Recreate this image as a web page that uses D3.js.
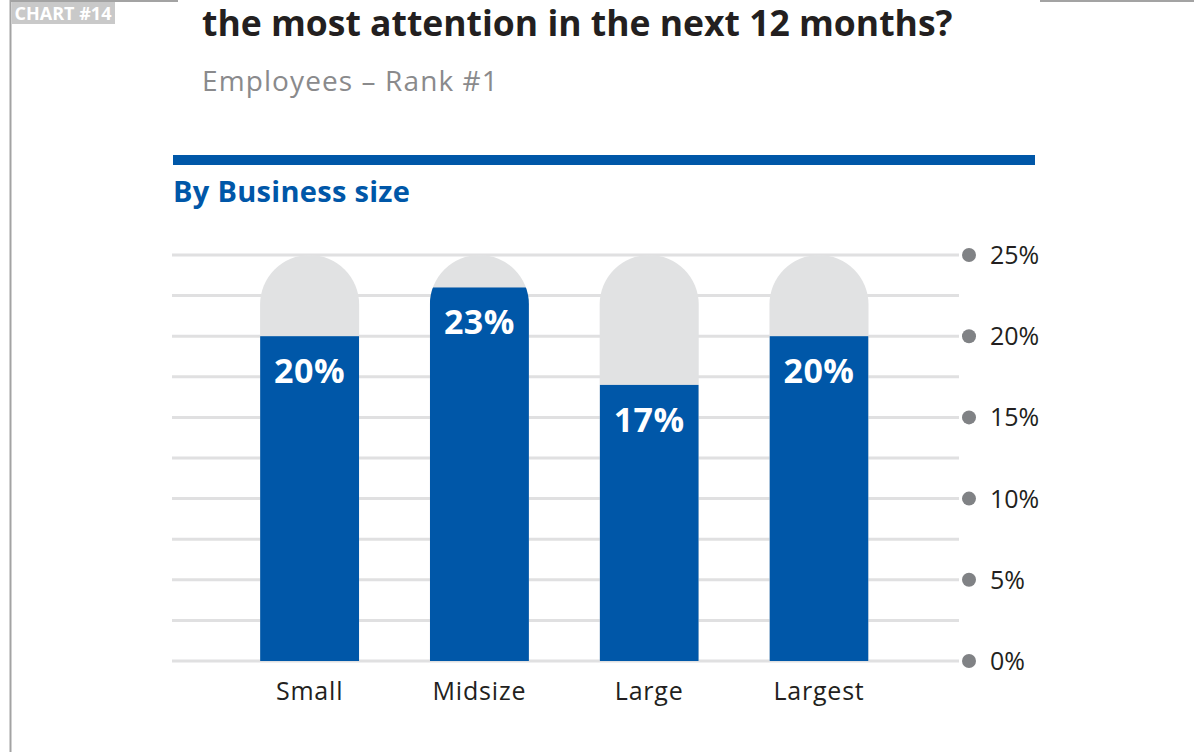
<!DOCTYPE html>
<html>
<head>
<meta charset="utf-8">
<script src="https://cdn.jsdelivr.net/npm/d3@7"></script>
<style>
  html, body { margin: 0; padding: 0; background: #fff; }
  svg { display: block; font-family: "Open Sans", "Lato", sans-serif; }
</style>
</head>
<body>
<svg id="chart" width="1194" height="752"></svg>
<script>
// Data
const categories = ["Small", "Midsize", "Large", "Largest"];
const values = [20, 23, 17, 20];
const valueLabels = ["20%", "23%", "17%", "20%"];
const tickValues = [0, 5, 10, 15, 20, 25];
const tickLabels = ["0%", "5%", "10%", "15%", "20%", "25%"];
const gridValues = [0, 2.5, 5, 7.5, 10, 12.5, 15, 17.5, 20, 22.5, 25];
const maxValue = 25;

const svg = d3.select("#chart");

// Page frame
const frameColor = "#a3a3a3";
svg.append("line").attr("x1", 10.5).attr("x2", 10.5).attr("y1", 0).attr("y2", 752)
  .attr("stroke", frameColor).attr("stroke-width", 2);
svg.append("line").attr("x1", 10).attr("x2", 178).attr("y1", 1).attr("y2", 1)
  .attr("stroke", frameColor).attr("stroke-width", 2);
svg.append("line").attr("x1", 1040).attr("x2", 1194).attr("y1", 1).attr("y2", 1)
  .attr("stroke", frameColor).attr("stroke-width", 2);

// Chart number tag
svg.append("rect").attr("x", 12).attr("y", 2).attr("width", 103).attr("height", 22).attr("fill", "#c9c9c9");
svg.append("text").attr("x", 63).attr("y", 20).attr("text-anchor", "middle")
  .attr("fill", "#fff").attr("font-weight", 700).attr("font-size", 18).text("CHART #14");

// Titles
svg.append("text").attr("x", 202).attr("y", 36).attr("fill", "#231f20")
  .attr("font-weight", 700).attr("font-size", 35.5).text("the most attention in the next 12 months?");
svg.append("text").attr("x", 202).attr("y", 91).attr("fill", "#8a8a8c")
  .attr("font-size", 28).attr("letter-spacing", 1.1).text("Employees – Rank #1");

svg.append("rect").attr("x", 173).attr("y", 155).attr("width", 862).attr("height", 10).attr("fill", "#0057a8");
svg.append("text").attr("x", 173).attr("y", 202).attr("fill", "#0057a8")
  .attr("font-weight", 700).attr("font-size", 29).attr("letter-spacing", 0.3).text("By Business size");

// Scales
const y = d3.scaleLinear().domain([0, maxValue]).range([661, 255]);
const x = d3.scaleBand().domain(categories).range([175.2, 953.4]).paddingInner(0.4166).paddingOuter(0.5);

// Grid lines
svg.append("g").selectAll("line").data(gridValues).join("line")
  .attr("x1", 172).attr("x2", 959)
  .attr("y1", d => y(d)).attr("y2", d => y(d))
  .attr("stroke", "#e0e0e1").attr("stroke-width", 3);

// Right axis: dots + labels
const axis = svg.append("g");
axis.selectAll("circle").data(tickValues).join("circle")
  .attr("cx", 969).attr("cy", d => y(d)).attr("r", 7).attr("fill", "#808285");
axis.selectAll("text").data(tickValues).join("text")
  .attr("x", 990).attr("y", d => y(d) + 9).attr("fill", "#231f20")
  .attr("font-size", 25).text((d, i) => tickLabels[i]);

// Pill-shaped track for each bar
function pillPath(x0, w, yTop, yBottom) {
  const r = w / 2;
  return `M${x0},${yBottom} L${x0},${yTop + r} A${r},${r} 0 0 1 ${x0 + w},${yTop + r} L${x0 + w},${yBottom} Z`;
}

const defs = svg.append("defs");
const bars = svg.append("g");
categories.forEach((c, i) => {
  const x0 = x(c), w = x.bandwidth();
  const d = pillPath(x0, w, y(maxValue), y(0));
  defs.append("clipPath").attr("id", "clip" + i).append("path").attr("d", d);
  bars.append("path").attr("d", d).attr("fill", "#e1e2e3");
  bars.append("rect").attr("clip-path", `url(#clip${i})`)
    .attr("x", x0).attr("width", w)
    .attr("y", y(values[i])).attr("height", y(0) - y(values[i]))
    .attr("fill", "#0057a8");
  bars.append("text").attr("x", x0 + w / 2).attr("y", y(values[i]) + 47)
    .attr("text-anchor", "middle").attr("fill", "#fff")
    .attr("font-weight", 700).attr("font-size", 34).attr("letter-spacing", 0.5).text(valueLabels[i]);
});

// Category labels
svg.append("g").selectAll("text").data(categories).join("text")
  .attr("x", d => x(d) + x.bandwidth() / 2).attr("y", 700)
  .attr("text-anchor", "middle").attr("fill", "#231f20")
  .attr("font-size", 25).attr("letter-spacing", 0.8).text(d => d);
</script>
</body>
</html>
